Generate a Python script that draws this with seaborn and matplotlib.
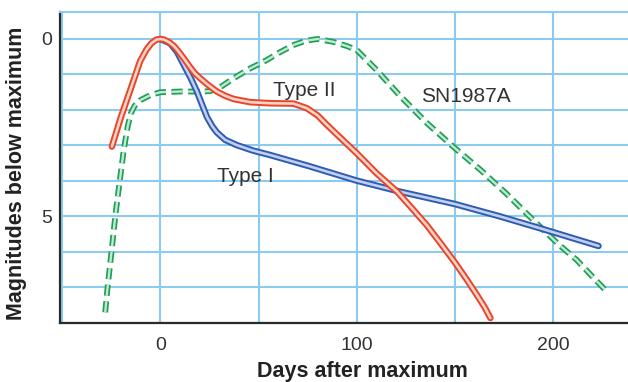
import matplotlib
matplotlib.use("Agg")
import matplotlib.pyplot as plt
import pandas as pd
import seaborn as sns

# Supernova light curves: days after maximum light vs. magnitudes below maximum
type1_days = [0, 5, 8.5, 12, 15.5, 18.7, 21.5, 23.8, 26.5, 28.8, 33, 39, 47, 56,
              75, 100, 122, 150, 173, 195, 223]
type1_mag = [0.0, 0.12, 0.36, 0.73, 1.1, 1.48, 1.88, 2.2, 2.46, 2.63, 2.84, 2.99,
             3.14, 3.27, 3.57, 3.99, 4.3, 4.65, 5.0, 5.36, 5.83]

type2_days = [-24.6, -20, -15, -10.2, -7, -4.5, -2, 0, 2, 4.5, 7, 9, 11.9, 15, 17.5,
              20.4, 24, 28.8, 33, 37.3, 45.8, 56, 67.8, 74.6, 80, 84.8, 92, 100, 110,
              120.5, 127, 135.7, 143, 150, 156, 161, 165, 168]
type2_mag = [3.03, 2.2, 1.4, 0.62, 0.3, 0.12, 0.02, 0.0, 0.02, 0.09, 0.2, 0.33,
             0.54, 0.78, 0.96, 1.11, 1.28, 1.48, 1.6, 1.69, 1.78, 1.81, 1.82, 1.95,
             2.15, 2.42, 2.8, 3.22, 3.78, 4.3, 4.7, 5.25, 5.78, 6.3, 6.78, 7.2,
             7.55, 7.86]

sn1987a_days = [-28, -26.8, -24.8, -22.9, -20.6, -18.5, -16.5, -15, -13, -10, -5, 0,
                10, 20, 25.4, 30.5, 37, 45, 54.3, 60, 67.8, 74, 80, 88, 95, 100, 110,
                122, 135.7, 149, 163, 176, 187, 195, 203, 212, 220, 227.3]
sn1987a_mag = [7.7, 7.0, 6.0, 5.0, 4.0, 3.1, 2.45, 2.1, 1.88, 1.72, 1.58, 1.5,
               1.48, 1.48, 1.47, 1.36, 1.12, 0.85, 0.59, 0.4, 0.17, 0.05, 0.0, 0.08,
               0.2, 0.31, 0.87, 1.6, 2.37, 3.03, 3.69, 4.35, 4.95, 5.38, 5.8, 6.23,
               6.7, 7.12]

labels = ["Type I", "Type II", "SN1987A"]
label_pos = [(28.9, 4.02), (57.5, 1.60), (132.7, 1.77)]

sns.set_theme(style="white")
plt.rcParams["font.family"] = ["Liberation Sans", "DejaVu Sans"]
plt.rcParams["lines.scale_dashes"] = False

grid_color = "#8ccbf0"
ink = "#333333"

fig = plt.figure(figsize=(6.28, 3.82), dpi=100)
ax = fig.add_axes([60 / 628, 59 / 382, 568 / 628, 311 / 382])
ax.set_facecolor("white")


def tube(df, outer, inner, z, width=4.7, core=1.9, dashed=False):
    # dark outer stroke with a pale core on top, giving a tube look
    for color, lw, zz in ((outer, width, z), (inner, core, z + 0.1)):
        style = dict(linestyle=(0, (8, 4)), dash_capstyle="butt") if dashed else \
            dict(solid_capstyle="round", solid_joinstyle="round")
        sns.lineplot(x=df["days"].to_numpy(), y=df["mag"].to_numpy(), ax=ax,
                     color=color, lw=lw, zorder=zz, sort=False,
                     estimator=None, **style)


df1 = pd.DataFrame({"days": type1_days, "mag": type1_mag})
df2 = pd.DataFrame({"days": type2_days, "mag": type2_mag})
df3 = pd.DataFrame({"days": sn1987a_days, "mag": sn1987a_mag})

tube(df3, "#1f9e58", "#c2ead0", 3, width=4.2, core=1.7, dashed=True)
tube(df1, "#2c5eb0", "#c6cdf0", 4)
tube(df2, "#e8452b", "#fcd3c5", 5)

for text, (tx, ty) in zip(labels, label_pos):
    ax.text(tx, ty, text, fontsize=15, color=ink, ha="left", va="baseline", zorder=6)

ax.set_xlim(-51, 238)
ax.set_ylim(8, -0.76)

ax.set_xticks([0, 100, 200])
ax.set_xticks([-50, 50, 150], minor=True)
ax.set_yticks([0, 5])
ax.set_yticks([1, 2, 3, 4, 6, 7, 8], minor=True)
ax.grid(True, which="both", color=grid_color, linewidth=1.5, zorder=0)
ax.set_axisbelow(True)
ax.tick_params(which="both", length=0)
ax.tick_params(axis="x", pad=10, labelsize=14, labelcolor=ink)
ax.tick_params(axis="y", pad=6, labelsize=14, labelcolor=ink)

ax.spines["right"].set_visible(False)
ax.spines["top"].set_color(grid_color)
ax.spines["top"].set_linewidth(1.5)
for side in ("left", "bottom"):
    ax.spines[side].set_color("#2a2a2a")
    ax.spines[side].set_linewidth(1.6)

ax.set_xlabel("Days after maximum", fontsize=15.5, fontweight="bold", color="#222222")
ax.set_ylabel("Magnitudes below maximum", fontsize=15.5, fontweight="bold", color="#222222")
ax.xaxis.set_label_coords(0.5326, -0.122)
ax.yaxis.set_label_coords(-0.058, 0.481)

fig.savefig("out.png", dpi=100)
